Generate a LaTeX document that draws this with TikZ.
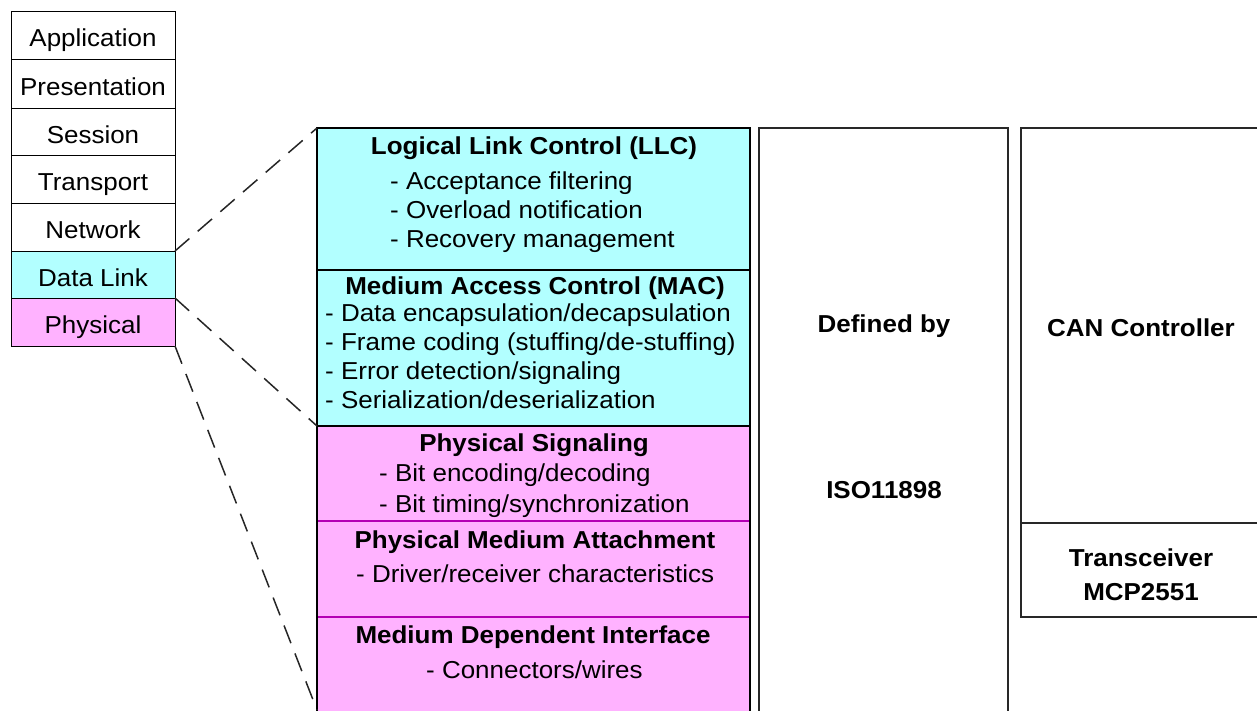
\documentclass[tikz,border=0pt]{standalone}
\usepackage{fontspec}
\setmainfont[FakeStretch=1.06]{Liberation Sans}
\definecolor{cyanfill}{RGB}{178,255,255}
\definecolor{pinkfill}{RGB}{255,178,255}
\definecolor{pinkline}{RGB}{180,0,180}
\definecolor{frame}{RGB}{40,40,40}
\begin{document}
\begin{tikzpicture}[x=1pt,y=-1pt,
  font=\fontsize{24.5}{29}\selectfont,
  layer/.style={draw=black, line width=1pt, inner sep=0pt, outer sep=0pt,
    minimum width=164pt, text height=23pt, text depth=0pt},
  blk/.style={inner sep=0pt, outer sep=0pt, anchor=north west, minimum width=433pt},
  col/.style={draw=frame, line width=1.2pt, inner sep=0pt, outer sep=0pt, anchor=north west},
  ttl/.style={font=\fontsize{24.5}{29}\selectfont\bfseries, anchor=base, inner sep=0pt},
  itm/.style={anchor=base west, inner sep=0pt},
  zoomline/.style={draw=black!85, line width=1.5pt, dash pattern=on 19pt off 11pt}
]
\useasboundingbox (0,0) rectangle (1257,710);
\clip (0,0) rectangle (1257,710);

% OSI stack
\node[layer, anchor=north west, minimum height=48pt] (app) at (11,11) {Application};
\node[layer, anchor=north west, minimum height=49pt] (pre) at (11,59) {Presentation};
\node[layer, anchor=north west, minimum height=47pt] (ses) at (11,108) {Session};
\node[layer, anchor=north west, minimum height=48pt] (tra) at (11,155) {Transport};
\node[layer, anchor=north west, minimum height=48pt] (net) at (11,203) {Network};
\node[layer, anchor=north west, minimum height=47pt, fill=cyanfill] (dl) at (11,251) {Data Link};
\node[layer, anchor=north west, minimum height=48pt, fill=pinkfill] (phy) at (11,298) {Physical};

% middle column blocks
\node[blk, minimum height=142pt, fill=cyanfill] (llc) at (317,128) {};
\node[blk, minimum height=156pt, fill=cyanfill] (mac) at (317,270) {};
\node[blk, minimum height=95pt, fill=pinkfill] (ps) at (317,426) {};
\node[blk, minimum height=96pt, fill=pinkfill] (pma) at (317,521) {};
\node[blk, minimum height=100pt, fill=pinkfill] (mdi) at (317,617) {};
\draw[pinkline, line width=1.1pt] (ps.south west) -- (ps.south east);
\draw[pinkline, line width=1.1pt] (pma.south west) -- (pma.south east);
\draw[black, line width=1.2pt] (llc.south west) -- (llc.south east);
\draw[black, line width=1.2pt] (mac.south west) -- (mac.south east);
\draw[black, line width=1.2pt] (mdi.south west) -- (llc.north west) -- (llc.north east) -- (mdi.south east);

% right columns
\node[col, minimum width=249pt, minimum height=600pt] (iso) at (759,128) {};
\node[col, minimum width=250pt, minimum height=395pt] (can) at (1021,128) {};
\node[col, minimum width=250pt, minimum height=94pt] (trx) at (1021,523) {};

% zoom lines
\coordinate (mdiend) at (317,710);
\draw[zoomline] (dl.north east) -- (llc.north west);
\draw[zoomline] (dl.south east) -- (mac.south west);
\draw[zoomline] (phy.south east) -- (mdiend);

% texts
\node[ttl] (llct) at (534,154) {Logical Link Control (LLC)};
\node[itm] (llc1) at (390,189) {- Acceptance filtering};
\node[itm] (llc2) at (390,218) {- Overload notification};
\node[itm] (llc3) at (390,247) {- Recovery management};

\node[ttl] (mact) at (535,294) {Medium Access Control (MAC)};
\node[itm] (mac1) at (325,321) {- Data encapsulation/decapsulation};
\node[itm] (mac2) at (325,350) {- Frame coding (stuffing/de-stuffing)};
\node[itm] (mac3) at (325,379) {- Error detection/signaling};
\node[itm] (mac4) at (325,408) {- Serialization/deserialization};

\node[ttl] (pst) at (534,451) {Physical Signaling};
\node[itm] (ps1) at (379,481) {- Bit encoding/decoding};
\node[itm] (ps2) at (379,512) {- Bit timing/synchronization};

\node[ttl] (pmat) at (535,548) {Physical Medium Attachment};
\node[itm] (pma1) at (356,582) {- Driver/receiver characteristics};

\node[ttl] (mdit) at (533,643) {Medium Dependent Interface};
\node[itm] (mdi1) at (426,678) {- Connectors/wires};

\node[ttl] (def) at (884,332) {Defined by};
\node[ttl] (isot) at (884,498) {ISO11898};
\node[ttl] (cant) at (1141,336) {CAN Controller};
\node[ttl] (trx1) at (1141,566) {Transceiver};
\node[ttl] (trx2) at (1141,600) {MCP2551};
\end{tikzpicture}
\end{document}
